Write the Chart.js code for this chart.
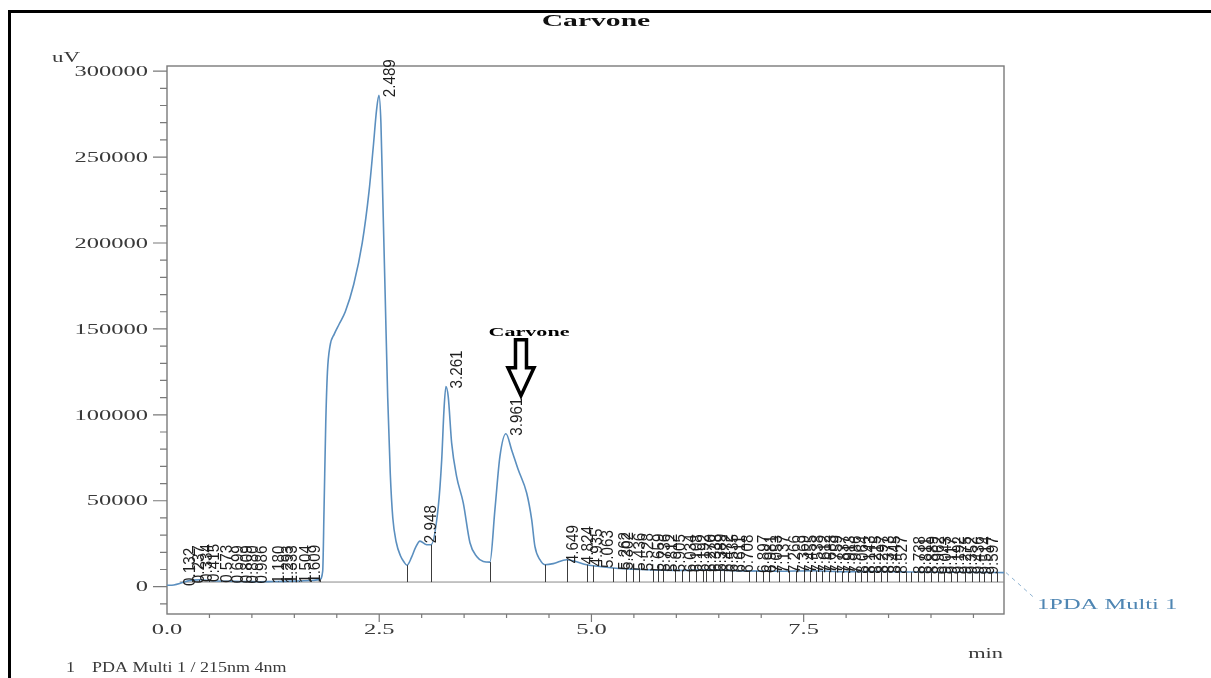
<!DOCTYPE html>
<html>
<head>
<meta charset="utf-8">
<title>Carvone</title>
<script src="https://cdn.jsdelivr.net/npm/chart.js@4.4.1/dist/chart.umd.min.js"></script>
<style>
  html, body { margin: 0; padding: 0; background: #fff; }
  #wrap { width: 1211px; height: 678px; }
</style>
</head>
<body>
<div id="wrap"><canvas id="chromChart" width="1211" height="678"></canvas></div>
<script>
// trace: retention time (min) and signal (uV)
const traceTimes = [
  0.00, 0.08, 0.15, 0.22, 0.30, 0.40, 0.50, 0.65, 0.80, 0.95, 1.10, 1.25, 1.40, 1.55, 1.70, 1.80,
  1.834, 1.85, 1.87, 1.89, 1.92, 1.97, 2.03, 2.10, 2.20, 2.30, 2.38, 2.43, 2.47, 2.497, 2.52,
  2.54, 2.57, 2.60, 2.63, 2.66, 2.70, 2.75, 2.79, 2.827, 2.88, 2.93, 2.98, 3.059, 3.11,
  3.196, 3.236, 3.263, 3.286, 3.313, 3.353, 3.412, 3.49, 3.569, 3.648, 3.726, 3.804,
  3.863, 3.922, 3.993, 4.06, 4.138, 4.237, 4.296, 4.334, 4.393, 4.452, 4.55, 4.708,
  4.943, 5.021, 5.257, 5.60, 6.00, 6.40, 6.80, 7.20, 7.60, 8.00, 8.40, 8.80, 9.20, 9.60, 9.86
];
const traceValues = [
  800, 1000, 1800, 3000, 3800, 4000, 3600, 3200, 3100, 3000, 2900, 3000, 3100, 3300, 3600, 4200,
  9000, 45000, 95000, 125000, 140000, 147000, 153000, 160000, 176000, 200000, 230000, 256000, 278000, 286000, 270000,
  230000, 170000, 110000, 66000, 40000, 26000, 18000, 14500, 12500, 17000, 23000, 26500, 24400, 24400,
  46700, 73800, 103000, 116500, 110600, 83700, 64100, 48800, 25600, 17600, 14700, 14300,
  44800, 75800, 89000, 79600, 68000, 54500, 39000, 23400, 15700, 12800, 13400, 15700,
  12800, 12200, 10900, 10000, 9500, 9800, 9200, 9000, 9300, 8700, 8800, 8500, 8400, 8300, 8200
];

// vertical drop lines at peak boundaries (min)
const dropTimes = [
  0.20, 0.30, 0.38, 0.50, 0.64, 0.76, 0.85, 0.93, 1.10, 1.25, 1.31, 1.42, 1.56, 1.70, 1.80,
  2.827, 3.11, 3.804, 4.452, 4.708, 4.943, 5.021, 5.257, 5.41, 5.49, 5.56, 5.72, 5.78, 5.84,
  5.99, 6.07, 6.15, 6.23, 6.31, 6.35, 6.43, 6.51, 6.56, 6.66, 6.86, 6.94, 7.02, 7.09, 7.21,
  7.33, 7.41, 7.50, 7.58, 7.64, 7.72, 7.80, 7.87, 7.95, 8.02, 8.10, 8.18, 8.25, 8.33, 8.41,
  8.48, 8.62, 8.70, 8.77, 8.85, 8.92, 9.00, 9.08, 9.15, 9.23, 9.31, 9.40, 9.48, 9.56, 9.63,
  9.71, 9.78
];

// retention time labels printed above the peaks
const peakTimes = [
  0.132, 0.237, 0.334, 0.415, 0.573, 0.699, 0.809, 0.880, 0.986, 1.180, 1.293, 1.333, 1.504, 1.609,
  2.489, 2.948, 3.261, 3.961,
  4.649, 4.824, 4.935, 5.063, 5.262, 5.302, 5.436, 5.528, 5.659, 5.736, 5.812, 5.905, 6.034,
  6.108, 6.192, 6.270, 6.338, 6.389, 6.472, 6.535, 6.611, 6.708, 6.897, 6.981, 7.053, 7.137,
  7.266, 7.369, 7.455, 7.538, 7.612, 7.683, 7.759, 7.837, 7.913, 7.986, 8.064, 8.143, 8.215,
  8.297, 8.373, 8.445, 8.527, 8.738, 8.811, 8.889, 8.962, 9.043, 9.117, 9.192, 9.275, 9.352,
  9.436, 9.514, 9.597
];
// the big peaks have their label sitting on the apex
const apexTimes = [2.497, 2.98, 3.286, 3.993];

const yTickValues = [0, 50000, 100000, 150000, 200000, 250000, 300000];
const yTickLabels = ['0', '50000', '100000', '150000', '200000', '250000', '300000'];
const xTickValues = [0, 2.5, 5, 7.5];
const xTickLabels = ['0.0', '2.5', '5.0', '7.5'];
const baselineLevel = 2700;
const carvoneMark = [4.17, 110000];

const traceColor = '#5b8fbf';
const serif = '"Liberation Serif", "DejaVu Serif", serif';

function curveAt(t) {
  for (let i = 1; i < traceTimes.length; i++) {
    if (t <= traceTimes[i]) {
      const t0 = traceTimes[i - 1], t1 = traceTimes[i];
      const f = (t - t0) / (t1 - t0);
      return traceValues[i - 1] + f * (traceValues[i] - traceValues[i - 1]);
    }
  }
  return traceValues[traceValues.length - 1];
}

// the scanned page is stretched sideways, so text gets a horizontal scale
function wideText(ctx, text, x, y, sx, align) {
  ctx.save();
  ctx.translate(x, y);
  ctx.scale(sx, 1);
  ctx.textAlign = align;
  ctx.fillText(text, 0, 0);
  ctx.restore();
}

const framePlugin = {
  id: 'frame',
  beforeDatasetsDraw(chart) {
    const ctx = chart.ctx;
    const a = chart.chartArea;
    const xs = chart.scales.x, ys = chart.scales.y;
    ctx.save();
    // page border
    ctx.fillStyle = '#000';
    ctx.fillRect(8, 10, 1203, 3);
    ctx.fillRect(8, 10, 3, 668);

    ctx.strokeStyle = '#7a7a7a';
    ctx.lineWidth = 1.4;
    ctx.strokeRect(a.left, a.top, a.right - a.left, a.bottom - a.top);

    // y ticks
    ctx.lineWidth = 1.2;
    ctx.beginPath();
    for (let v = -10000; v <= 300000; v += 10000) {
      const py = ys.getPixelForValue(v);
      const len = v % 50000 === 0 ? 14 : 7;
      ctx.moveTo(a.left - len, py);
      ctx.lineTo(a.left, py);
    }
    // x ticks
    for (let t = 0.5; t < 9.8; t += 0.5) {
      const px = xs.getPixelForValue(t);
      const major = Math.abs(t / 2.5 - Math.round(t / 2.5)) < 1e-6;
      ctx.moveTo(px, a.bottom);
      ctx.lineTo(px, a.bottom + (major ? 8 : 4));
    }
    ctx.stroke();

    ctx.fillStyle = '#3a3a3a';
    ctx.font = '14px ' + serif;
    ctx.textBaseline = 'middle';
    yTickValues.forEach((v, i) => {
      wideText(ctx, yTickLabels[i], a.left - 19, ys.getPixelForValue(v) + 1, 1.75, 'right');
    });
    xTickValues.forEach((t, i) => {
      wideText(ctx, xTickLabels[i], xs.getPixelForValue(t), a.bottom + 16, 1.75, 'center');
    });
    ctx.textBaseline = 'alphabetic';
    wideText(ctx, 'uV', 52, 62, 1.64, 'left');
    wideText(ctx, 'min', 1003, 658, 1.6, 'right');
    ctx.font = '15px ' + serif;
    wideText(ctx, '1', 66, 672, 1.2, 'left');
    wideText(ctx, 'PDA Multi 1 / 215nm 4nm', 92, 672, 1.2, 'left');

    ctx.fillStyle = '#111';
    ctx.font = 'bold 16px ' + serif;
    wideText(ctx, 'Carvone', 596, 26, 1.85, 'center');
    ctx.restore();
  },
  afterDatasetsDraw(chart) {
    const ctx = chart.ctx;
    const xs = chart.scales.x, ys = chart.scales.y;
    ctx.save();
    // drop lines
    ctx.strokeStyle = '#3c3c3c';
    ctx.lineWidth = 1;
    ctx.beginPath();
    const yBase = ys.getPixelForValue(baselineLevel);
    dropTimes.forEach(t => {
      const px = Math.round(xs.getPixelForValue(t)) + 0.5;
      ctx.moveTo(px, yBase);
      ctx.lineTo(px, ys.getPixelForValue(curveAt(t)));
    });
    ctx.stroke();

    // retention time labels, rotated to read bottom to top
    ctx.fillStyle = '#1e1e1e';
    ctx.font = '16px "Liberation Sans", Arial, sans-serif';
    ctx.textAlign = 'left';
    ctx.textBaseline = 'middle';
    const big = [2.489, 2.948, 3.261, 3.961];
    peakTimes.forEach(t => {
      const k = big.indexOf(t);
      const tt = k >= 0 ? apexTimes[k] : t;
      const px = xs.getPixelForValue(tt) + 12;
      const py = ys.getPixelForValue(curveAt(tt)) + 2;
      ctx.save();
      ctx.translate(px, py);
      ctx.rotate(-Math.PI / 2);
      ctx.scale(0.95, 1);
      ctx.fillText(t.toFixed(3), 0, 0);
      ctx.restore();
    });

    // Carvone arrow
    const tx = xs.getPixelForValue(carvoneMark[0]);
    const ty = ys.getPixelForValue(carvoneMark[1]);
    ctx.beginPath();
    ctx.moveTo(tx - 5.5, ty - 58);
    ctx.lineTo(tx + 5.5, ty - 58);
    ctx.lineTo(tx + 5.5, ty - 30);
    ctx.lineTo(tx + 13, ty - 30);
    ctx.lineTo(tx, ty - 2);
    ctx.lineTo(tx - 13, ty - 30);
    ctx.lineTo(tx - 5.5, ty - 30);
    ctx.closePath();
    ctx.fillStyle = '#fff';
    ctx.fill();
    ctx.strokeStyle = '#000';
    ctx.lineWidth = 3.5;
    ctx.lineJoin = 'miter';
    ctx.stroke();
    ctx.fillStyle = '#000';
    ctx.font = 'bold 13px ' + serif;
    ctx.textBaseline = 'alphabetic';
    wideText(ctx, 'Carvone', tx + 8, ty - 62, 1.7, 'center');

    // trace name with dashed leader from the end of the trace
    const ex = xs.getPixelForValue(traceTimes[traceTimes.length - 1]);
    const ey = ys.getPixelForValue(traceValues[traceValues.length - 1]);
    ctx.strokeStyle = '#8fb3d1';
    ctx.lineWidth = 1;
    ctx.setLineDash([4, 4]);
    ctx.beginPath();
    ctx.moveTo(ex + 2, ey);
    ctx.lineTo(ex + 30, ey + 25);
    ctx.stroke();
    ctx.setLineDash([]);
    ctx.fillStyle = '#4f86b3';
    ctx.font = '14px ' + serif;
    wideText(ctx, '1PDA Multi 1', ex + 33, ey + 36, 1.75, 'left');
    ctx.restore();
  }
};

function drawChart() {
  const points = traceTimes.map((t, i) => ({ x: t, y: traceValues[i] }));
  const ctx = document.getElementById('chromChart').getContext('2d');
  new Chart(ctx, {
    type: 'line',
    data: {
      datasets: [
        {
          label: 'PDA Multi 1',
          data: points,
          borderColor: traceColor,
          borderWidth: 1.6,
          pointRadius: 0,
          cubicInterpolationMode: 'monotone',
          fill: false
        },
        {
          label: 'baseline',
          data: [{ x: 0.15, y: baselineLevel }, { x: 9.86, y: baselineLevel }],
          borderColor: '#8a8a8a',
          borderWidth: 1,
          pointRadius: 0,
          fill: false
        }
      ]
    },
    options: {
      responsive: false,
      animation: false,
      devicePixelRatio: 1,
      layout: { padding: { left: 167, top: 66, right: 207, bottom: 64 } },
      plugins: { legend: { display: false }, tooltip: { enabled: false } },
      scales: {
        x: { type: 'linear', min: 0, max: 9.86, display: false },
        y: { type: 'linear', min: -15900, max: 303000, display: false }
      }
    },
    plugins: [framePlugin]
  });
}

document.addEventListener('DOMContentLoaded', drawChart);
</script>
</body>
</html>
